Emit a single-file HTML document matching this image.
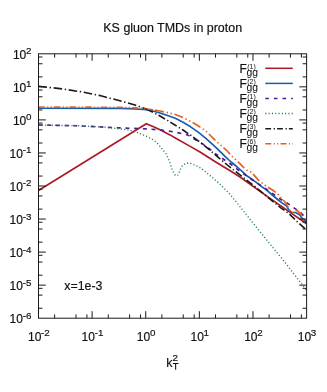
<!DOCTYPE html><html><head><meta charset="utf-8"><style>html,body{margin:0;padding:0;background:#fff;overflow:hidden}svg{display:block;will-change:transform}text{font-family:"Liberation Sans",sans-serif;fill:#111;stroke:#111;stroke-width:.18px}</style></head><body>
<svg width="327" height="392" viewBox="0 0 327 392">
<rect width="327" height="392" fill="#fff"/>
<text x="172.7" y="31.6" font-size="12.45" text-anchor="middle">KS gluon TMDs in proton</text>
<clipPath id="c"><rect x="38.5" y="53.8" width="268.1" height="264.4"/></clipPath><g clip-path="url(#c)" fill="none" stroke-linejoin="round">
<polyline points="38.5,190.5 146.3,123.7 153.0,126.5 160.0,129.8 170.0,134.9 175.3,138.0 190.6,146.6 200.0,152.0 215.3,161.7 230.6,171.0 240.0,177.0 270.0,198.3 306.6,223.8" stroke="#ad1826" stroke-width="1.65"/>
<polyline points="38.5,108.2 120.0,108.4 135.0,108.9 146.3,109.8 153.0,111.0 160.0,113.0 167.5,115.5 175.3,118.3 183.0,122.3 190.6,126.8 198.2,132.2 205.9,138.4 215.3,146.8 225.0,156.4 231.1,162.0 237.2,167.0 243.3,172.4 246.4,175.5 249.5,177.5 255.6,181.8 261.7,186.7 265.0,188.9 270.0,193.0 277.6,199.5 282.7,203.4 286.6,206.0 289.1,210.4 291.7,212.3 295.5,212.5 299.3,214.4 301.8,218.0 304.4,220.0 306.6,221.8" stroke="#185eae" stroke-width="1.65"/>
<polyline points="38.5,125.0 76.0,125.7 120.0,127.9 146.3,128.9 160.0,129.9 175.3,132.1 187.5,134.9 198.2,141.3 205.9,145.9 215.3,153.6 229.9,163.5 238.2,170.0 250.7,178.8 258.0,183.6 271.3,192.5 279.0,198.3 286.6,202.7 293.0,207.2 300.6,212.5 306.6,219.0" stroke="#4a1e96" stroke-width="1.65" stroke-dasharray="4,4.7"/>
<polyline points="38.5,125.0 76.0,125.7 105.0,127.2 120.0,128.9 128.0,130.0 135.3,131.8 146.3,136.2 150.9,138.4 156.4,142.2 161.0,147.4 165.6,153.2 168.3,158.4 170.2,163.6 172.0,169.0 173.9,173.6 175.3,175.3 176.6,175.7 177.8,175.0 179.0,173.1 180.3,169.3 183.0,164.9 186.7,163.0 191.3,163.6 195.9,165.6 201.4,168.5 206.9,173.0 210.0,175.5 220.0,184.2 230.0,194.3 240.0,206.6 250.0,219.3 286.0,263.7 306.6,290.3" stroke="#1f8049" stroke-width="1.4" stroke-dasharray="1.1,2.2"/>
<polyline points="38.5,86.3 60.0,88.6 80.0,91.6 100.0,95.6 120.0,100.8 135.0,105.0 146.3,109.0" stroke="#1a1a1a" stroke-width="1.6" stroke-dasharray="8.6,2.6,1.4,2.6"/>
<polyline points="146.3,109.0 153.0,112.3 160.0,116.0 167.5,120.4 175.3,125.2 183.0,130.0 190.6,135.2 198.2,140.9 205.9,146.8 215.3,154.8 227.4,165.0 233.6,170.0 240.9,175.7 254.4,186.1 271.3,200.2 280.8,207.8 289.1,213.8 297.4,221.8 306.6,230.2" stroke="#1a1a1a" stroke-width="1.6" stroke-dasharray="7.5,2.5,1.3,2.4" stroke-dashoffset="0"/>
<polyline points="38.5,107.0 120.0,107.3 135.0,107.9 146.3,108.8 153.0,109.8" stroke="#e8601a" stroke-width="1.65" stroke-dasharray="6.2,2.4,1.2,2.3,1.2,2.3"/>
<polyline points="153.0,109.8 160.0,111.0 167.5,112.6 175.3,114.5 183.0,117.6 190.6,121.4 198.2,125.8 205.9,131.0 215.3,140.3 227.4,151.2 232.3,156.5 237.2,161.0 243.3,167.1 246.4,170.0 249.0,171.3 251.3,172.2 255.6,176.9 259.3,181.0 262.9,183.6 266.0,186.0 272.5,190.0 277.6,193.8 281.5,198.3 284.6,201.5 287.8,206.6 290.4,211.0 292.3,213.0 295.0,211.0 297.0,210.3 301.2,214.2 303.1,218.7 306.6,221.0" stroke="#e8601a" stroke-width="1.65" stroke-dasharray="9.2,2.8,1.4,2.6,1.4,2.6" stroke-dashoffset="-1.9"/>
</g>
<g stroke="#1a1a1a" stroke-width="1" fill="none"><rect x="38.5" y="53.8" width="268.1" height="264.4"/>
<path d="M54.64 318.2v-3.8M54.64 53.8v3.8M75.98 318.2v-3.8M75.98 53.8v3.8M86.92 318.2v-3.8M86.92 53.8v3.8M92.12 318.2v-7M92.12 53.8v7M108.26 318.2v-3.8M108.26 53.8v3.8M129.60 318.2v-3.8M129.60 53.8v3.8M140.54 318.2v-3.8M140.54 53.8v3.8M145.74 318.2v-7M145.74 53.8v7M161.88 318.2v-3.8M161.88 53.8v3.8M183.22 318.2v-3.8M183.22 53.8v3.8M194.16 318.2v-3.8M194.16 53.8v3.8M199.36 318.2v-7M199.36 53.8v7M215.50 318.2v-3.8M215.50 53.8v3.8M236.84 318.2v-3.8M236.84 53.8v3.8M247.78 318.2v-3.8M247.78 53.8v3.8M252.98 318.2v-7M252.98 53.8v7M269.12 318.2v-3.8M269.12 53.8v3.8M290.46 318.2v-3.8M290.46 53.8v3.8M301.40 318.2v-3.8M301.40 53.8v3.8M38.5 308.25h4M306.6 308.25h-4M38.5 295.10h4M306.6 295.10h-4M38.5 288.35h4M306.6 288.35h-4M38.5 285.15h7.3M306.6 285.15h-7.3M38.5 275.20h4M306.6 275.20h-4M38.5 262.05h4M306.6 262.05h-4M38.5 255.30h4M306.6 255.30h-4M38.5 252.10h7.3M306.6 252.10h-7.3M38.5 242.15h4M306.6 242.15h-4M38.5 229.00h4M306.6 229.00h-4M38.5 222.25h4M306.6 222.25h-4M38.5 219.05h7.3M306.6 219.05h-7.3M38.5 209.10h4M306.6 209.10h-4M38.5 195.95h4M306.6 195.95h-4M38.5 189.20h4M306.6 189.20h-4M38.5 186.00h7.3M306.6 186.00h-7.3M38.5 176.05h4M306.6 176.05h-4M38.5 162.90h4M306.6 162.90h-4M38.5 156.15h4M306.6 156.15h-4M38.5 152.95h7.3M306.6 152.95h-7.3M38.5 143.00h4M306.6 143.00h-4M38.5 129.85h4M306.6 129.85h-4M38.5 123.10h4M306.6 123.10h-4M38.5 119.90h7.3M306.6 119.90h-7.3M38.5 109.95h4M306.6 109.95h-4M38.5 96.80h4M306.6 96.80h-4M38.5 90.05h4M306.6 90.05h-4M38.5 86.85h7.3M306.6 86.85h-7.3M38.5 76.90h4M306.6 76.90h-4M38.5 63.75h4M306.6 63.75h-4M38.5 57.00h4M306.6 57.00h-4"/></g>
<text x="31.4" y="323.3" font-size="12" text-anchor="end">10<tspan font-size="9.8" dy="-4.7" dx="-0.3">-6</tspan></text>
<text x="31.4" y="290.2" font-size="12" text-anchor="end">10<tspan font-size="9.8" dy="-4.7" dx="-0.3">-5</tspan></text>
<text x="31.4" y="257.2" font-size="12" text-anchor="end">10<tspan font-size="9.8" dy="-4.7" dx="-0.3">-4</tspan></text>
<text x="31.4" y="224.2" font-size="12" text-anchor="end">10<tspan font-size="9.8" dy="-4.7" dx="-0.3">-3</tspan></text>
<text x="31.4" y="191.1" font-size="12" text-anchor="end">10<tspan font-size="9.8" dy="-4.7" dx="-0.3">-2</tspan></text>
<text x="31.4" y="158.0" font-size="12" text-anchor="end">10<tspan font-size="9.8" dy="-4.7" dx="-0.3">-1</tspan></text>
<text x="31.4" y="125.0" font-size="12" text-anchor="end">10<tspan font-size="9.8" dy="-4.7" dx="-0.3">0</tspan></text>
<text x="31.4" y="91.9" font-size="12" text-anchor="end">10<tspan font-size="9.8" dy="-4.7" dx="-0.3">1</tspan></text>
<text x="31.4" y="58.9" font-size="12" text-anchor="end">10<tspan font-size="9.8" dy="-4.7" dx="-0.3">2</tspan></text>
<text x="38.9" y="341" font-size="12" text-anchor="middle">10<tspan font-size="9.8" dy="-4.7" dx="-0.3">-2</tspan></text>
<text x="92.5" y="341" font-size="12" text-anchor="middle">10<tspan font-size="9.8" dy="-4.7" dx="-0.3">-1</tspan></text>
<text x="146.1" y="341" font-size="12" text-anchor="middle">10<tspan font-size="9.8" dy="-4.7" dx="-0.3">0</tspan></text>
<text x="199.8" y="341" font-size="12" text-anchor="middle">10<tspan font-size="9.8" dy="-4.7" dx="-0.3">1</tspan></text>
<text x="253.4" y="341" font-size="12" text-anchor="middle">10<tspan font-size="9.8" dy="-4.7" dx="-0.3">2</tspan></text>
<text x="307.0" y="341" font-size="12" text-anchor="middle">10<tspan font-size="9.8" dy="-4.7" dx="-0.3">3</tspan></text>
<text x="166.3" y="366.8" font-size="12.5">k</text><text x="172.5" y="361.4" font-size="9.8">2</text><path d="M172.8 363.4H178.5M175.65 363.4V369.8" stroke="#111" stroke-width="1.05" fill="none"/>
<text x="64.3" y="290.3" font-size="12.35">x=1e-3</text>
<line x1="265.3" y1="68.3" x2="292.8" y2="68.3" stroke="#ad1826" stroke-width="1.5"/>
<text x="239.4" y="72.8" font-size="12">F</text><text x="247.2" y="68.5" font-size="7" style="stroke:none">(1)</text><text x="246.6" y="75.9" font-size="10.3" style="stroke-width:.05px">gg</text>
<line x1="265.3" y1="83.4" x2="292.8" y2="83.4" stroke="#185eae" stroke-width="1.5"/>
<text x="239.4" y="87.9" font-size="12">F</text><text x="247.2" y="83.6" font-size="7" style="stroke:none">(2)</text><text x="246.6" y="91.0" font-size="10.3" style="stroke-width:.05px">gg</text>
<line x1="265.3" y1="98.5" x2="292.8" y2="98.5" stroke="#4a1e96" stroke-width="1.5" stroke-dasharray="3.6,5"/>
<text x="239.4" y="103.0" font-size="12">F</text><text x="247.2" y="98.7" font-size="7" style="stroke:none">(1)</text><text x="246.6" y="106.1" font-size="10.3" style="stroke-width:.05px">gg</text>
<line x1="265.3" y1="113.6" x2="292.8" y2="113.6" stroke="#1f8049" stroke-width="1.5" stroke-dasharray="1.1,2.2"/>
<text x="239.4" y="118.1" font-size="12">F</text><text x="247.2" y="113.8" font-size="7" style="stroke:none">(2)</text><text x="246.6" y="121.2" font-size="10.3" style="stroke-width:.05px">gg</text>
<line x1="265.3" y1="128.7" x2="292.8" y2="128.7" stroke="#1a1a1a" stroke-width="1.5" stroke-dasharray="5.8,2.6,1.3,2.1"/>
<text x="239.4" y="133.2" font-size="12">F</text><text x="247.2" y="128.9" font-size="7" style="stroke:none">(3)</text><text x="246.6" y="136.3" font-size="10.3" style="stroke-width:.05px">gg</text>
<line x1="265.3" y1="143.8" x2="292.8" y2="143.8" stroke="#e8601a" stroke-width="1.5" stroke-dasharray="6,2.4,1.1,2.3,1.1,2.3"/>
<text x="239.4" y="148.3" font-size="12">F</text><text x="247.2" y="144.0" font-size="7" style="stroke:none">(6)</text><text x="246.6" y="151.4" font-size="10.3" style="stroke-width:.05px">gg</text>
</svg></body></html>
